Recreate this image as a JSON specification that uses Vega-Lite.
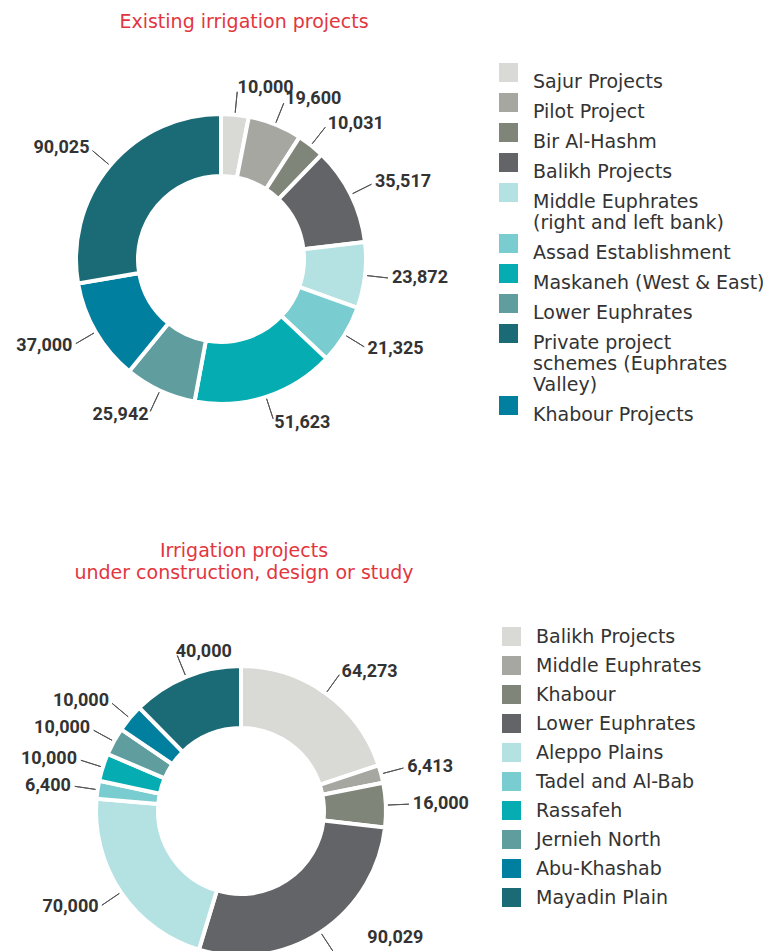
{
  "$schema": "https://vega.github.io/schema/vega-lite/v6.json",
  "padding": {"top": 13, "left": 0, "right": 0, "bottom": 0},
  "bounds": "flush",
  "spacing": 213,
  "config": {"view": {"stroke": null}, "font": "DejaVu Sans"},
  "resolve": {"scale": {"color": "independent", "theta": "independent"}, "legend": {"color": "independent"}},
  "vconcat": [
    {
      "width": 442,
      "height": 396,
      "title": {"text": "Existing irrigation projects", "font": "DejaVu Sans", "fontSize": 19, "fontWeight": "normal", "color": "#e2363f", "offset": 29, "dx": 23, "anchor": "middle"},
      "data": {"values": [
        {"order": 1, "project": "Sajur Projects", "hectares": 10000},
        {"order": 2, "project": "Pilot Project", "hectares": 19600},
        {"order": 3, "project": "Bir Al-Hashm", "hectares": 10031},
        {"order": 4, "project": "Balikh Projects", "hectares": 35517},
        {"order": 5, "project": "Middle Euphrates (right and left bank)", "hectares": 23872},
        {"order": 6, "project": "Assad Establishment", "hectares": 21325},
        {"order": 7, "project": "Maskaneh (West & East)", "hectares": 51623},
        {"order": 8, "project": "Lower Euphrates", "hectares": 25942},
        {"order": 9, "project": "Khabour Projects", "hectares": 37000},
        {"order": 10, "project": "Private project schemes (Euphrates Valley)", "hectares": 90025}
      ]},
      "encoding": {
        "theta": {"field": "hectares", "type": "quantitative", "stack": true},
        "order": {"field": "order", "type": "quantitative"}
      },
      "layer": [
        {
          "mark": {"type": "arc", "innerRadius": 83, "outerRadius": 145, "stroke": "white", "strokeWidth": 4},
          "encoding": {
            "color": {
              "field": "project", "type": "nominal",
              "scale": {
                "domain": ["Sajur Projects", "Pilot Project", "Bir Al-Hashm", "Balikh Projects", "Middle Euphrates (right and left bank)", "Assad Establishment", "Maskaneh (West & East)", "Lower Euphrates", "Private project schemes (Euphrates Valley)", "Khabour Projects"],
                "range": ["#d9dad5", "#a5a7a0", "#7f8579", "#636467", "#b4e1e2", "#79cccf", "#05adb2", "#609d9f", "#1b6b76", "#007f9f"]
              },
              "legend": {
                "orient": "none", "legendX": 499, "legendY": 2, "title": null,
                "symbolType": "square", "symbolSize": 361, "symbolStrokeWidth": 0,
                "labelFont": "DejaVu Sans", "labelFontSize": 19, "labelColor": "#333333",
                "labelOffset": 15, "rowPadding": 1, "labelLimit": 300, "labelBaseline": "top",
                "labelExpr": "datum.label == 'Middle Euphrates (right and left bank)' ? ['Middle Euphrates', '(right and left bank)'] : datum.label == 'Private project schemes (Euphrates Valley)' ? ['Private project', 'schemes (Euphrates', 'Valley)'] : datum.label"
              }
            }
          }
        },
        {
          "mark": {"type": "arc", "innerRadius": 147, "outerRadius": 168, "padAngle": 3.14, "filled": false, "stroke": "#555555", "strokeWidth": 1}
        },
        {
          "mark": {"type": "text", "radius": 172, "align": "left", "baseline": "middle", "font": "Roboto", "fontWeight": "bold", "fontSize": 18, "color": "#333333"},
          "encoding": {"text": {"condition": {"test": "datum.order <= 7", "field": "hectares", "type": "quantitative", "format": ","}, "value": ""}}
        },
        {
          "mark": {"type": "text", "radius": 172, "align": "right", "baseline": "middle", "font": "Roboto", "fontWeight": "bold", "fontSize": 18, "color": "#333333"},
          "encoding": {"text": {"condition": {"test": "datum.order > 7", "field": "hectares", "type": "quantitative", "format": ","}, "value": ""}}
        }
      ]
    },
    {
      "width": 482,
      "height": 282,
      "title": {"text": ["Irrigation projects", "under construction, design or study"], "font": "DejaVu Sans", "fontSize": 19, "fontWeight": "normal", "color": "#e2363f", "lineHeight": 22, "offset": 43, "dx": 3, "anchor": "middle"},
      "data": {"values": [
        {"order": 1, "project": "Balikh Projects", "hectares": 64273},
        {"order": 2, "project": "Middle Euphrates", "hectares": 6413},
        {"order": 3, "project": "Khabour", "hectares": 16000},
        {"order": 4, "project": "Lower Euphrates", "hectares": 90029},
        {"order": 5, "project": "Aleppo Plains", "hectares": 70000},
        {"order": 6, "project": "Tadel and Al-Bab", "hectares": 6400},
        {"order": 7, "project": "Rassafeh", "hectares": 10000},
        {"order": 8, "project": "Jernieh North", "hectares": 10000},
        {"order": 9, "project": "Abu-Khashab", "hectares": 10000},
        {"order": 10, "project": "Mayadin Plain", "hectares": 40000}
      ]},
      "encoding": {
        "theta": {"field": "hectares", "type": "quantitative", "stack": true},
        "order": {"field": "order", "type": "quantitative"}
      },
      "layer": [
        {
          "mark": {"type": "arc", "innerRadius": 83, "outerRadius": 145, "stroke": "white", "strokeWidth": 4},
          "encoding": {
            "color": {
              "field": "project", "type": "nominal",
              "scale": {
                "domain": ["Balikh Projects", "Middle Euphrates", "Khabour", "Lower Euphrates", "Aleppo Plains", "Tadel and Al-Bab", "Rassafeh", "Jernieh North", "Abu-Khashab", "Mayadin Plain"],
                "range": ["#d9dad5", "#a5a7a0", "#7f8579", "#636467", "#b4e1e2", "#79cccf", "#05adb2", "#609d9f", "#007f9f", "#1b6b76"]
              },
              "legend": {
                "orient": "none", "legendX": 502, "legendY": -43, "title": null,
                "symbolType": "square", "symbolSize": 361, "symbolStrokeWidth": 0,
                "labelFont": "DejaVu Sans", "labelFontSize": 19, "labelColor": "#333333",
                "labelOffset": 15, "rowPadding": 9, "labelLimit": 300, "labelBaseline": "middle"
              }
            }
          }
        },
        {
          "mark": {"type": "arc", "innerRadius": 147, "outerRadius": 168, "padAngle": 3.14, "filled": false, "stroke": "#555555", "strokeWidth": 1}
        },
        {
          "mark": {"type": "text", "radius": 172, "align": "left", "baseline": "middle", "font": "Roboto", "fontWeight": "bold", "fontSize": 18, "color": "#333333"},
          "encoding": {"text": {"condition": {"test": "datum.order <= 3 || datum.order == 10", "field": "hectares", "type": "quantitative", "format": ","}, "value": ""}}
        },
        {
          "mark": {"type": "text", "radius": 172, "align": "left", "baseline": "middle", "dx": 32, "dy": -17, "font": "Roboto", "fontWeight": "bold", "fontSize": 18, "color": "#333333"},
          "encoding": {"text": {"condition": {"test": "datum.order == 4", "field": "hectares", "type": "quantitative", "format": ","}, "value": ""}}
        },
        {
          "mark": {"type": "text", "radius": 172, "align": "right", "baseline": "middle", "font": "Roboto", "fontWeight": "bold", "fontSize": 18, "color": "#333333"},
          "encoding": {"text": {"condition": {"test": "datum.order >= 5 && datum.order <= 9", "field": "hectares", "type": "quantitative", "format": ","}, "value": ""}}
        }
      ]
    }
  ]
}
